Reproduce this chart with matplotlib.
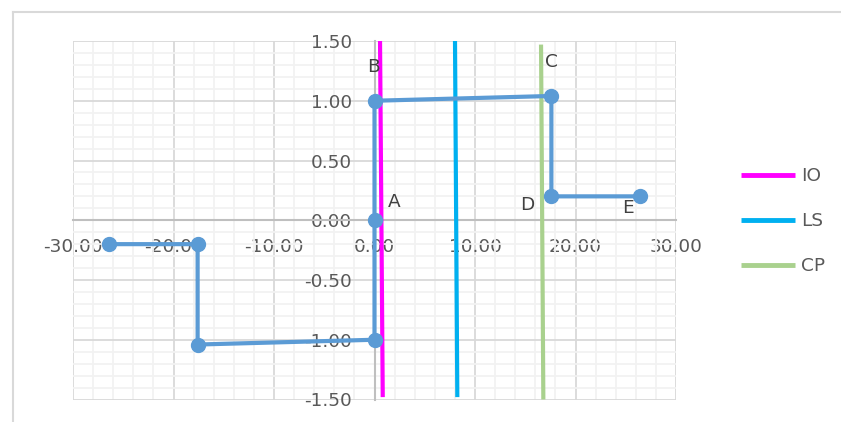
import matplotlib
matplotlib.use("Agg")
import matplotlib.pyplot as plt
from matplotlib.lines import Line2D
from matplotlib.ticker import MultipleLocator, FormatStrFormatter

# Path through the points A..E and their mirrored counterparts
path_x = [-26.4, -17.6, -17.6, 0.0, 0.0, 0.0, 17.6, 17.6, 26.4]
path_y = [-0.20, -0.20, -1.04, -1.00, 0.00, 1.00, 1.04, 0.20, 0.20]

# Named points and the index of the path vertex each one labels
point_names = ["A", "B", "C", "D", "E"]
point_index = [4, 5, 6, 7, 8]
label_offsets = [(20, 18), (-1, 34), (0, 34), (-24, -9), (-12, -12)]

# Reference lines: (x at top, y at top) -> (x at bottom, y at bottom)
ref_names = ["IO", "LS", "CP"]
ref_x = [(0.55, 0.82), (8.01, 8.24), (16.57, 16.80)]
ref_y = [(1.50, -1.48), (1.50, -1.48), (1.47, -1.50)]
ref_colors = ["#FF00FF", "#00B0F0", "#A9D18E"]

W, H = 841, 422
fig = plt.figure(figsize=(W / 100, H / 100), dpi=100)
plt.rcParams["font.family"] = ["DejaVu Sans"]

# chart-area frame
fig.add_artist(Line2D([13 / W, 1], [1 - 12 / H, 1 - 12 / H], color="#d9d9d9", lw=1.5,
                      transform=fig.transFigure))
fig.add_artist(Line2D([13 / W, 13 / W], [0, 1 - 12 / H], color="#d9d9d9", lw=1.5,
                      transform=fig.transFigure))

left, right, top, bottom = 73, 676, 41, 399.5
ax = fig.add_axes([left / W, 1 - bottom / H, (right - left) / W, (bottom - top) / H])
ax.set_xlim(-30, 30)
ax.set_ylim(-1.5, 1.5)

ax.xaxis.set_major_locator(MultipleLocator(10))
ax.xaxis.set_minor_locator(MultipleLocator(2))
ax.yaxis.set_major_locator(MultipleLocator(0.5))
ax.yaxis.set_minor_locator(MultipleLocator(0.1))
ax.xaxis.set_major_formatter(FormatStrFormatter("%.2f"))
ax.yaxis.set_major_formatter(FormatStrFormatter("%.2f"))

ax.set_axisbelow(True)
ax.grid(which="minor", color="#f2f2f2", lw=1.3)
ax.grid(which="major", color="#d9d9d9", lw=1.3)

for s in ["top", "right"]:
    ax.spines[s].set_visible(False)
ax.spines["left"].set_position(("data", 0))
ax.spines["bottom"].set_position(("data", 0))
for s in ["left", "bottom"]:
    ax.spines[s].set_color("#bfbfbf")
    ax.spines[s].set_linewidth(1.5)
    ax.spines[s].set_zorder(1)

fs = 13.3
ax.tick_params(which="both", length=0, labelsize=fs, labelcolor="#595959")
ax.tick_params(axis="x", pad=13)
ax.tick_params(axis="y", pad=16)

# reference lines
handles = []
for name, xs, ys, c in zip(ref_names, ref_x, ref_y, ref_colors):
    h, = ax.plot(xs, ys, color=c, lw=3, solid_capstyle="butt", zorder=4, label=name)
    handles.append(h)

# main path
ax.plot(path_x, path_y, color="#5B9BD5", lw=3, marker="o", ms=10,
        solid_joinstyle="miter", zorder=5, clip_on=False)

for name, idx, off in zip(point_names, point_index, label_offsets):
    ax.annotate(name, (path_x[idx], path_y[idx]), xytext=off, textcoords="offset pixels",
                ha="center", va="center", fontsize=fs, color="#404040", zorder=6)

leg = fig.legend(handles=handles, loc="upper left",
                 bbox_to_anchor=(741 / W, 1 - 167 / H),
                 frameon=False, fontsize=fs, handlelength=2.9, handletextpad=0.35,
                 labelspacing=1.47, borderaxespad=0, borderpad=0)
for t in leg.get_texts():
    t.set_color("#595959")
for l in leg.get_lines():
    l.set_linewidth(3.5)

fig.savefig("out.png", dpi=100)
